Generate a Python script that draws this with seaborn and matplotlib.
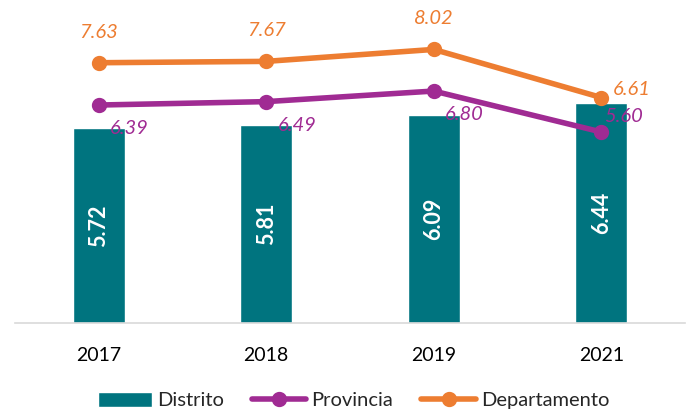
import numpy as np
import pandas as pd
import matplotlib
matplotlib.use("Agg")
import matplotlib.pyplot as plt
import seaborn as sns

# ---------------------------------------------------------------------------
# Data
# ---------------------------------------------------------------------------
years = ["2017", "2018", "2019", "2021"]
distrito = [5.72, 5.81, 6.09, 6.44]
provincia = [6.39, 6.49, 6.80, 5.60]
departamento = [7.63, 7.67, 8.02, 6.61]

TEAL = "#00747F"
PURPLE = "#A02B93"
ORANGE = "#ED7D31"

sns.set_theme(style="white")
plt.rcParams["font.family"] = ["Lato", "DejaVu Sans"]

fig = plt.figure(figsize=(6.97, 4.12), dpi=100)
ax = fig.add_axes([15 / 697, 1 - 323 / 412, 670 / 697, 307 / 412])

df = pd.DataFrame({"year": years, "Distrito": distrito,
                   "Provincia": provincia, "Departamento": departamento})

sns.barplot(data=df, x="year", y="Distrito", color=TEAL, width=0.31,
            saturation=1, ax=ax, label="Distrito")
sns.pointplot(data=df, x="year", y="Provincia", color=PURPLE, errorbar=None,
              markers="o", markersize=8, linewidth=4, ax=ax, label="Provincia")
sns.pointplot(data=df, x="year", y="Departamento", color=ORANGE, errorbar=None,
              markers="o", markersize=8, linewidth=4, ax=ax, label="Departamento")

ax.set_xlim(-0.5, len(years) - 0.5)
ax.set_ylim(0, 9)
ax.set_xlabel("")
ax.set_ylabel("")
ax.set_yticks([])
for side in ["top", "right", "left"]:
    ax.spines[side].set_visible(False)
ax.spines["bottom"].set_color("#D9D9D9")
ax.spines["bottom"].set_linewidth(1.2)
ax.tick_params(axis="x", length=0, pad=17, labelsize=14, colors="#000000")

# bar labels (white, rotated)
for i, v in enumerate(distrito):
    ax.text(i, v / 2, f"{v:.2f}", rotation=90, ha="center", va="center",
            color="white", fontsize=15.5, fontweight="bold")

# line labels
prov_offsets = [(22, -17), (22, -17), (22, -17), (16, 11)]
dep_offsets = [(0, 22), (0, 22), (0, 22), (22, 6)]
for i, v in enumerate(provincia):
    ax.annotate(f"{v:.2f}", (i, v), xytext=prov_offsets[i], textcoords="offset points",
                ha="center", va="center", color=PURPLE, fontsize=14.5, style="italic")
for i, v in enumerate(departamento):
    ax.annotate(f"{v:.2f}", (i, v), xytext=dep_offsets[i], textcoords="offset points",
                ha="center", va="center", color=ORANGE, fontsize=14.5, style="italic")

handles, labels = ax.get_legend_handles_labels()
order = [labels.index(n) for n in ["Distrito", "Provincia", "Departamento"]]
ax.legend([handles[k] for k in order], [labels[k] for k in order],
          loc="lower center", bbox_to_anchor=(0.505, -0.34), ncol=3, frameon=False,
          fontsize=14.5, handlelength=2.7, handleheight=0.8, columnspacing=1.4,
          handletextpad=0.25)

fig.savefig("out.png", dpi=100)
